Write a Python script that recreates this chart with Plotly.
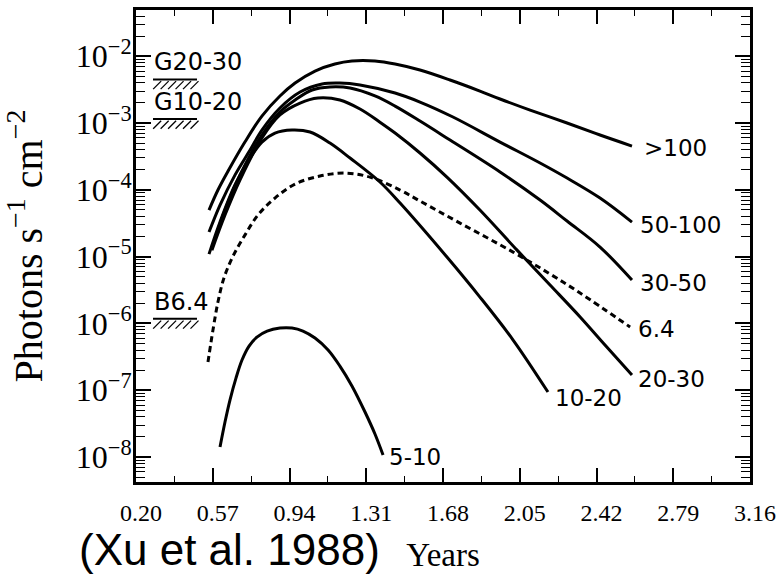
import numpy as np
import plotly.graph_objects as go

# Light curves of the continuum bands (keV) and the 6.4 keV line
years_gt100 = [0.552, 0.595, 0.644, 0.725, 0.807, 0.894, 0.967, 1.063, 1.159, 1.241,
               1.352, 1.449, 1.569, 1.714, 1.858, 1.955, 2.100, 2.278, 2.437, 2.591]
flux_gt100 = [4.98e-5, 9.93e-5, 1.91e-4, 5.19e-4, 1.27e-3, 2.54e-3, 3.97e-3, 6.00e-3, 7.64e-3, 8.47e-3,
              8.47e-3, 7.64e-3, 6.21e-3, 4.40e-3, 3.01e-3, 2.29e-3, 1.56e-3, 1.00e-3, 6.61e-4, 4.52e-4]

years_50_100 = [0.552, 0.605, 0.677, 0.750, 0.807, 0.894, 0.991, 1.097, 1.183, 1.280,
                1.449, 1.569, 1.728, 1.955, 2.148, 2.278, 2.437, 2.591]
flux_50_100 = [2.33e-5, 5.91e-5, 1.66e-4, 3.94e-4, 7.85e-4, 1.68e-3, 2.91e-3, 3.84e-3, 3.97e-3, 3.71e-3,
               2.81e-3, 2.06e-3, 1.23e-3, 5.19e-4, 2.52e-4, 1.50e-4, 7.53e-5, 3.29e-5]

years_30_50 = [0.576, 0.629, 0.701, 0.807, 0.894, 0.967, 1.049, 1.135, 1.232, 1.352,
               1.449, 1.569, 1.714, 1.955, 2.148, 2.278, 2.437, 2.591]
flux_30_50 = [1.65e-5, 4.98e-5, 1.66e-4, 6.61e-4, 1.46e-3, 2.21e-3, 3.12e-3, 3.46e-3, 3.34e-3, 2.54e-3,
              1.79e-3, 1.07e-3, 5.56e-4, 1.85e-4, 7.03e-5, 3.41e-5, 1.39e-5, 4.46e-6]

years_20_30 = [0.566, 0.629, 0.701, 0.807, 0.894, 0.991, 1.077, 1.183, 1.280, 1.376,
               1.449, 1.569, 1.699, 1.858, 2.037, 2.196, 2.341, 2.461, 2.591]
flux_20_30 = [1.25e-5, 4.19e-5, 1.40e-4, 5.96e-4, 1.32e-3, 1.99e-3, 2.37e-3, 2.21e-3, 1.62e-3, 1.03e-3,
              7.08e-4, 3.56e-4, 1.55e-4, 4.98e-5, 1.25e-5, 3.76e-6, 1.25e-6, 4.75e-7, 1.69e-7]

years_10_20 = [0.552, 0.605, 0.677, 0.750, 0.807, 0.870, 0.952, 1.039, 1.135, 1.232,
               1.376, 1.473, 1.699, 1.858, 2.018, 2.186]
flux_10_20 = [1.09e-5, 3.29e-5, 1.18e-4, 2.99e-4, 5.19e-4, 7.08e-4, 7.85e-4, 7.33e-4, 5.01e-4, 2.99e-4,
              1.31e-4, 6.34e-5, 9.86e-6, 2.48e-6, 5.64e-7, 9.39e-8]

years_5_10 = [0.605, 0.629, 0.653, 0.682, 0.711, 0.745, 0.783, 0.832, 0.894, 0.952,
              1.005, 1.063, 1.126, 1.183, 1.241, 1.304, 1.352, 1.391]
flux_5_10 = [1.41e-8, 3.34e-8, 7.13e-8, 1.52e-7, 2.83e-7, 4.58e-7, 6.25e-7, 7.69e-7, 8.53e-7, 8.53e-7,
             7.69e-7, 6.04e-7, 4.00e-7, 2.30e-7, 1.16e-7, 4.72e-8, 2.21e-8, 1.07e-8]

years_line64 = [0.547, 0.571, 0.595, 0.624, 0.668, 0.725, 0.788, 0.870, 0.967, 1.087,
                1.208, 1.328, 1.473, 1.569, 1.762, 2.018, 2.196, 2.341, 2.582]
flux_line64 = [2.64e-7, 7.96e-7, 2.09e-6, 4.78e-6, 1.02e-5, 2.10e-5, 4.19e-5, 7.53e-5, 1.22e-4, 1.61e-4,
               1.78e-4, 1.55e-4, 9.93e-5, 6.79e-5, 3.18e-5, 1.17e-5, 5.49e-6, 2.85e-6, 8.83e-7]

# Instrument sensitivity levels
level_names = ["G20-30", "G10-20", "B6.4"]
level_flux = [4.5e-3, 1.15e-3, 1.17e-6]
level_years = [0.282, 0.494]

x_ticks = [0.20, 0.57, 0.94, 1.31, 1.68, 2.05, 2.42, 2.79, 3.16]
x_tick_labels = ["0.20", "0.57", "0.94", "1.31", "1.68", "2.05", "2.42", "2.79", "3.16"]
y_exponents = [-8, -7, -6, -5, -4, -3, -2]

# Minor tick positions: midpoints in x, 2..9 of each decade in y
x_minor = [round(a + 0.185, 3) for a in x_ticks[:-1]]
y_minor = [k * 10.0 ** e for e in range(-9, -1) for k in range(2, 10)]

# name, x, y, dash, label shift (px)
curves = [
    (">100", years_gt100, flux_gt100, "solid", (10, -2)),
    ("50-100", years_50_100, flux_50_100, "solid", (6, -3)),
    ("30-50", years_30_50, flux_30_50, "solid", (6, -3)),
    ("6.4", years_line64, flux_line64, "6px,4px", (6, -2)),
    ("20-30", years_20_30, flux_20_30, "solid", (4, -4)),
    ("10-20", years_10_20, flux_10_20, "solid", (5, -6)),
    ("5-10", years_5_10, flux_5_10, "solid", (4, -2)),
]

label_font = dict(family="DejaVu Sans", size=23, color="black")
serif = "Liberation Serif"

fig = go.Figure()
for name, xs, ys, dash, (dx, dy) in curves:
    fig.add_trace(go.Scatter(
        x=xs, y=ys, mode="lines", showlegend=False, hoverinfo="skip",
        line=dict(color="black", width=3, dash=dash, shape="spline", smoothing=1.0),
    ))
    fig.add_annotation(x=xs[-1], y=float(np.log10(ys[-1])), text=name, showarrow=False,
                       xanchor="left", yanchor="middle", xshift=dx, yshift=dy,
                       font=label_font)

# Sensitivity levels: underline with hatch strokes hanging below, name above
for name, lv in zip(level_names, level_flux):
    fig.add_trace(go.Scatter(
        x=level_years, y=[lv, lv], mode="lines", showlegend=False, hoverinfo="skip",
        line=dict(color="black", width=2),
    ))
    hatch_x = np.linspace(level_years[0] + 0.02, level_years[1] - 0.012, 6)
    fig.add_trace(go.Scatter(
        x=hatch_x, y=[lv * 0.82] * len(hatch_x), mode="markers", showlegend=False,
        hoverinfo="skip",
        marker=dict(symbol="line-ne", size=8, color="black", line=dict(color="black", width=1.3)),
    ))
    fig.add_annotation(x=level_years[0], y=float(np.log10(lv)), text=name, showarrow=False,
                       xanchor="left", yanchor="bottom", yshift=1, xshift=-1,
                       font=dict(family="DejaVu Sans", size=24, color="black"))

fig.add_annotation(xref="paper", yref="paper", x=0.153, y=-0.144,
                   text="(Xu et al. 1988)", showarrow=False,
                   xanchor="center", yanchor="middle",
                   font=dict(family="Liberation Sans", size=44, color="black"))

fig.update_layout(
    width=776, height=575,
    margin=dict(l=136, r=26, t=10, b=93, autoexpand=False),
    paper_bgcolor="white", plot_bgcolor="white",
    xaxis=dict(
        range=[0.20, 3.16], tickmode="array", tickvals=x_ticks, ticktext=x_tick_labels,
        ticks="inside", ticklen=14, tickwidth=2, tickcolor="black",
        showline=True, linewidth=3, linecolor="black", mirror="ticks",
        showgrid=False, zeroline=False, automargin=False,
        ticklabelstandoff=7, ticklabelshift=5,
        minor=dict(tickmode="array", tickvals=x_minor, ticks="inside", ticklen=6,
                   tickwidth=1, tickcolor="black", showgrid=False),
        tickfont=dict(family=serif, size=24, color="black"),
        title=dict(text="Years", font=dict(family=serif, size=33, color="black"), standoff=19),
    ),
    yaxis=dict(
        type="log", range=[-8.374, -1.308], tickmode="array",
        tickvals=[10.0 ** e for e in y_exponents],
        ticktext=[f"10<sup>\u2212{-e}</sup>" for e in y_exponents],
        ticks="inside", ticklen=15, tickwidth=2, tickcolor="black",
        showline=True, linewidth=3, linecolor="black", mirror="ticks",
        showgrid=False, zeroline=False, automargin=False, ticklabelstandoff=-5,
        minor=dict(tickmode="array", tickvals=y_minor, ticks="inside", ticklen=9,
                   tickwidth=1, tickcolor="black", showgrid=False),
        tickfont=dict(family=serif, size=32, color="black"),
        title=dict(text="Photons s<sup>\u22121</sup> cm<sup>\u22122</sup>",
                   font=dict(family=serif, size=40, color="black"), standoff=21),
    ),
)

fig.write_html("out.html")
